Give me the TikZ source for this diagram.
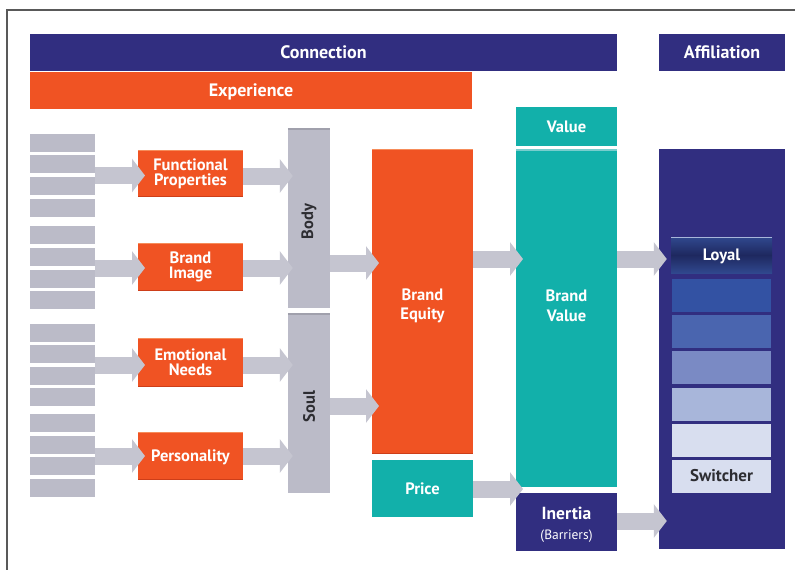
\documentclass[tikz,border=0pt]{standalone}
\usepackage{fontspec}
\setmainfont{PT Sans}
\usetikzlibrary{calc,arrows.meta}

\definecolor{navy}{RGB}{49,46,128}
\definecolor{orng}{RGB}{240,83,35}
\definecolor{orngdark}{RGB}{205,62,25}
\definecolor{ornglight}{RGB}{246,140,90}
\definecolor{teal}{RGB}{18,176,170}
\definecolor{teallight}{RGB}{120,205,205}
\definecolor{bargrey}{RGB}{187,187,200}
\definecolor{bargreydark}{RGB}{160,160,172}
\definecolor{arrgrey}{RGB}{197,197,208}
\definecolor{ink}{RGB}{45,45,50}
\definecolor{tierA}{RGB}{51,82,163}
\definecolor{tierB}{RGB}{74,101,175}
\definecolor{tierC}{RGB}{122,138,196}
\definecolor{tierD}{RGB}{168,182,218}
\definecolor{tierE}{RGB}{216,222,239}
\definecolor{loyaldark}{RGB}{30,40,95}
\definecolor{loyallight}{RGB}{48,72,142}

\tikzset{
  blk/.style={inner sep=0pt, outer sep=0pt, text=white,
    font=\bfseries\fontsize{16.5}{15}\selectfont, align=center},
  tall/.style={font=\bfseries\fontsize{16.5}{19.5}\selectfont},
  oneline/.style={text height=11.6pt, text depth=0pt},
  band/.style={blk, text height=12.6pt, text depth=0pt, font=\bfseries\fontsize{18}{18}\selectfont},
  orbox/.style={blk, fill=orng, minimum width=105pt},
  greybar/.style={fill=bargrey, minimum width=65pt, minimum height=18pt, inner sep=0pt},
  pillar/.style={fill=bargrey, minimum width=42pt, minimum height=179pt, inner sep=0pt},
  pillartext/.style={rotate=90, text=ink, font=\bfseries\fontsize{16.5}{16.5}\selectfont},
  tier/.style={minimum width=99pt, minimum height=33pt, inner sep=0pt},
  blockarrow/.style={draw=arrgrey, line width=17pt,
    -{Triangle[length=13pt, width=33pt, fill=arrgrey]}},
}

\begin{document}
\begin{tikzpicture}[x=1pt, y=-1pt]
\useasboundingbox (0,0) rectangle (795,570);
\fill[white] (0,0) rectangle (795,570);

% outer frame
\draw[black!65, line width=1.2pt] (7,570) -- (7,10) -- (795,10);

% header bands
\node[band, fill=navy, minimum width=587pt, minimum height=37pt] (conn) at (323.5,52.5) {Connection};
\node[band, fill=navy, minimum width=126pt, minimum height=37pt] (aff) at (722,52.5) {Affiliation};
\node[band, fill=orng, minimum width=442pt, minimum height=37pt] (exp) at (251,90.5) {Experience};

% attribute bars on the left
\foreach \g/\ya/\yb/\yc/\yd in {1/134/155/177/199, 2/226/248/270/291, 3/324/345/367/388, 4/414/436/457/479}{
  \node[greybar, anchor=north] (b\g1) at (62.5,\ya) {};
  \node[greybar, anchor=north] (b\g2) at (62.5,\yb) {};
  \node[greybar, anchor=north] (b\g3) at (62.5,\yc) {};
  \node[greybar, anchor=north] (b\g4) at (62.5,\yd) {};
}

% brand dimensions
\node[orbox, minimum height=47pt] (fp) at (190.5,173.5) {Functional\\Properties};
\node[orbox, minimum height=48pt] (bi) at (190.5,267) {Brand\\Image};
\node[orbox, minimum height=49pt] (en) at (190.5,362.5) {Emotional\\Needs};
\node[orbox, oneline, minimum height=48pt] (pers) at (190.5,456) {Personality};

% body and soul pillars
\node[pillar] (body) at (309,218.5) {};
\node[pillartext] at ($(body.center)+(0,3)$) {Body};
\node[pillar] (soul) at (309,403.5) {};
\node[pillartext] at ($(soul.center)+(0,3)$) {Soul};
\foreach \n in {body,soul}{
  \draw[bargreydark, line width=1.5pt] (\n.north west) -- (\n.north east);
}

% equity, price, value, inertia columns
\node[blk, fill=orng, minimum width=101pt, minimum height=305pt] (be) at (422.5,301.5) {};
\node[blk, tall] at (422.5,306) {Brand\\Equity};
\node[blk, oneline, fill=teal, minimum width=101pt, minimum height=57pt] (price) at (422.5,488.5) {Price};
\node[blk, oneline, fill=teal, minimum width=101pt, minimum height=39pt] (value) at (566.5,126.5) {Value};
\node[blk, fill=teal, minimum width=101pt, minimum height=338pt] (bv) at (566.5,318) {};
\node[blk, tall] at (566.5,306) {Brand\\Value};
\node[blk, fill=navy, minimum width=101pt, minimum height=58pt] (inertia) at (566.5,522) {};
\node[blk, font=\bfseries\fontsize{17.5}{20}\selectfont] at (566.5,524.5)
  {Inertia\\{\mdseries\fontsize{13.5}{13.5}\selectfont(Barriers)}};

% box edge highlights and shades
\foreach \n in {fp,bi,en,pers,be}{
  \draw[ornglight, line width=1.2pt] ([yshift=-0.6pt]\n.north west) -- ([yshift=-0.6pt]\n.north east);
  \draw[orngdark, line width=1.2pt] ([yshift=0.6pt]\n.south west) -- ([yshift=0.6pt]\n.south east);
}
\draw[teallight, line width=1.5pt] ([yshift=-0.75pt]bv.north west) -- ([yshift=-0.75pt]bv.north east);

% affiliation column with loyalty ladder
\node[fill=navy, minimum width=126pt, minimum height=400pt, inner sep=0pt] (affbox) at (722,349) {};
\shade[top color=loyallight, bottom color=loyallight, middle color=loyaldark]
  (671,237) rectangle (772,273);
\node[blk, oneline, minimum width=101pt, minimum height=36pt] (loyal) at (721.5,255) {Loyal};
\draw[tierD, line width=1pt] (loyal.north west) -- (loyal.north east);
\node[tier, fill=tierA] (t1) at (721.5,295.5) {};
\node[tier, fill=tierB] (t2) at (721.5,331.5) {};
\node[tier, fill=tierC] (t3) at (721.5,367.5) {};
\node[tier, fill=tierD] (t4) at (721.5,404) {};
\node[tier, fill=tierE] (t5) at (721.5,440.5) {};
\node[tier, oneline, fill=tierE, text=ink, font=\bfseries\fontsize{17}{17}\selectfont] (sw) at (721.5,476) {Switcher};

% connectors: attributes to dimensions
\draw[blockarrow] ($(b12.east |- fp.west)+(0,2)$) -- ($(fp.west)+(7,2)$);
\draw[blockarrow] ($(b22.east |- bi.west)+(0,1)$) -- ($(bi.west)+(7,1)$);
\draw[blockarrow] ($(b32.east |- en.west)+(0,2.5)$) -- ($(en.west)+(7,2.5)$);
\draw[blockarrow] ($(b42.east |- pers.west)$) -- ($(pers.west)+(7,0)$);

% dimensions to body and soul
\draw[blockarrow] ($(fp.east)+(0,2.5)$) -- ($(fp.east -| body.west)+(5,2.5)$);
\draw[blockarrow] ($(bi.east)+(0,1)$) -- ($(bi.east -| body.west)+(5,1)$);
\draw[blockarrow] ($(en.east)+(0,2.5)$) -- ($(en.east -| soul.west)+(5,2.5)$);
\draw[blockarrow] (pers.east) -- ($(pers.east -| soul.west)+(5,0)$);

% body and soul to brand equity
\draw[blockarrow] ($(body.east)+(0,44.5)$) -- ($(body.east -| be.west)+(7,44.5)$);
\draw[blockarrow] ($(soul.east)+(0,2.5)$) -- ($(soul.east -| be.west)+(7,2.5)$);

% equity and price to value
\draw[blockarrow] ($(be.east)+(0,-42.5)$) -- ($(be.east -| bv.west)+(7,-42.5)$);
\draw[blockarrow] ($(price.east)+(0,0.5)$) -- ($(price.east -| bv.west)+(7,0.5)$);

% value and inertia to affiliation
\draw[blockarrow] ($(bv.east)+(0,-59)$) -- ($(bv.east -| affbox.west)+(8,-59)$);
\draw[blockarrow] ($(inertia.east)+(0,-1)$) -- ($(inertia.east -| affbox.west)+(8,-1)$);
\end{tikzpicture}
\end{document}
